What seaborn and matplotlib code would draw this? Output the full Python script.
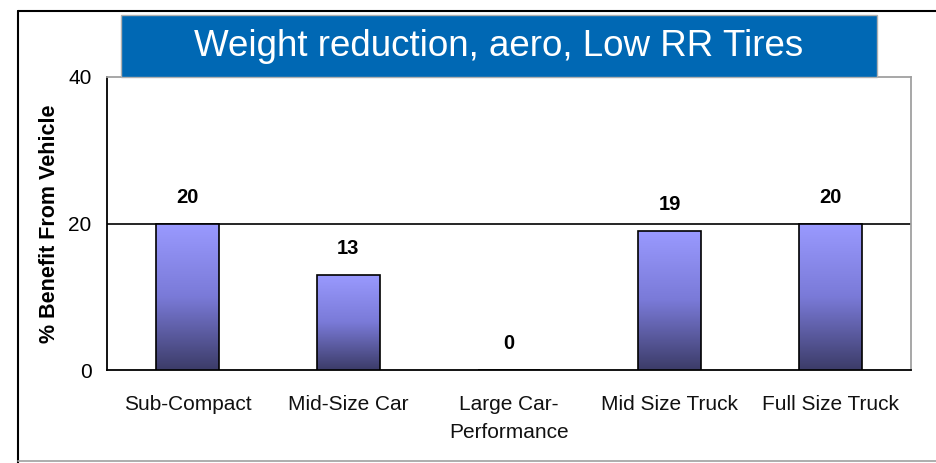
import matplotlib
matplotlib.use("Agg")
import matplotlib.pyplot as plt
from matplotlib.patches import Rectangle
from matplotlib.colors import LinearSegmentedColormap
import numpy as np
import pandas as pd
import seaborn as sns

categories = ["Sub-Compact", "Mid-Size Car", "Large Car-\nPerformance",
              "Mid Size Truck", "Full Size Truck"]
values = [20, 13, 0, 19, 20]
title = "Weight reduction, aero, Low RR Tires"
ylabel = "% Benefit From Vehicle"

sns.set_style("white")
plt.rcParams['font.family'] = ['Liberation Sans', 'DejaVu Sans']
plt.rcParams['text.color'] = 'black'

df = pd.DataFrame({"cat": categories, "val": values})

fig = plt.figure(figsize=(9.37, 4.63), dpi=100)
ax = fig.add_axes([107 / 937, 93 / 463, 804 / 937, 293 / 463])

sns.barplot(data=df, x="cat", y="val", color="#9999ff", width=0.39,
            edgecolor="black", linewidth=1.2, ax=ax, zorder=3)

# gradient fill for the bars
cmap = LinearSegmentedColormap.from_list("bar", ["#9a9aff", "#7a7ad8", "#3c3c68"])
grad = np.linspace(0, 1, 256).reshape(-1, 1)
for p in ax.patches:
    x0, y0 = p.get_x(), p.get_y()
    w, h = p.get_width(), p.get_height()
    if h <= 0:
        continue
    im = ax.imshow(grad, cmap=cmap, aspect="auto", extent=[x0, x0 + w, y0, y0 + h],
                   origin="upper", zorder=3.5)
    im.set_clip_path(p)
    p.set_facecolor("none")
    p.set_zorder(4)

ax.set_xlim(-0.5, len(categories) - 0.5)
ax.set_ylim(0, 40)
ax.set_yticks([0, 20, 40])
ax.axhline(20, color="black", lw=1.2, zorder=2)

for i, v in enumerate(values):
    ax.annotate(str(v), (i, v), xytext=(0, 12), textcoords="offset points",
                ha="center", va="bottom", fontsize=14.5, fontweight="bold", color="black")

ax.set_xticks(range(len(categories)))
ax.set_xticklabels(categories, fontsize=15, color="#111111", linespacing=1.6)
ax.set_xticks(np.arange(-0.5, len(categories), 1), minor=True)
ax.tick_params(axis="x", which="major", length=0, pad=18)
ax.tick_params(axis="x", which="minor", length=5, width=1.2, direction="out", color="black")
ax.tick_params(axis="y", length=6, width=1.2, direction="out", labelsize=15, pad=5, colors="black")
ax.set_xlabel("")
ax.set_ylabel(ylabel, fontsize=15.5, fontweight="bold", labelpad=6, color="black")

for s in ["left", "bottom"]:
    ax.spines[s].set_color("black")
    ax.spines[s].set_linewidth(1.3)
for s in ["top", "right"]:
    ax.spines[s].set_color("#a0a0a0")
    ax.spines[s].set_linewidth(1.3)

# outer frame lines
fig.add_artist(plt.Line2D([18 / 937, 18 / 937], [0, 1 - 11 / 463], color="black", lw=1.5))
fig.add_artist(plt.Line2D([18 / 937, 1], [1 - 11 / 463, 1 - 11 / 463], color="black", lw=1.5))
fig.add_artist(plt.Line2D([18 / 937, 1], [2 / 463, 2 / 463], color="#a0a0a0", lw=1.2))

# title banner
fig.add_artist(Rectangle((121 / 937, 1 - 77 / 463), 756 / 937, 62 / 463,
                         facecolor="#0068b4", edgecolor="#b0b0b0", lw=1,
                         transform=fig.transFigure, zorder=5))
fig.text(499 / 937, 1 - 47 / 463, title, color="white", fontsize=26.5,
         ha="center", va="center", zorder=6)

plt.savefig("out.png", dpi=100)
